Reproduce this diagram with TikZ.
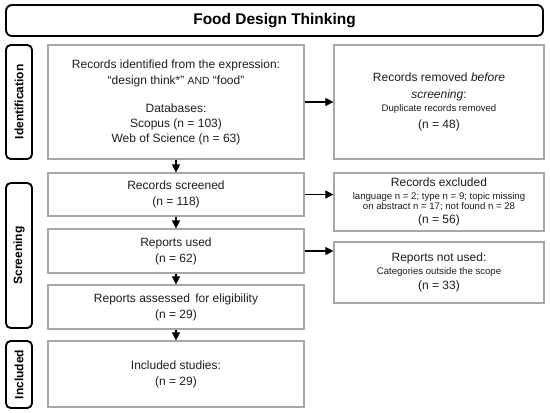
\documentclass[tikz,border=0pt]{standalone}
\usepackage{fontspec}
\setmainfont{Liberation Sans}
\usetikzlibrary{arrows.meta}
\definecolor{boxgray}{HTML}{A6A6A6}
\definecolor{txt}{HTML}{1E1E1E}
\newcommand{\sm}{\fontsize{7.2}{12}\selectfont}
\begin{document}
\begin{tikzpicture}[x=0.75pt,y=-0.75pt,
  box/.style={draw=boxgray, line width=0.9pt, inner sep=0pt, align=center, text=txt,
    font=\fontsize{9}{12}\selectfont},
  lbl/.style={draw=black, line width=1.4pt, rounded corners=3.5pt, inner sep=0pt,
    rotate=90, minimum height=19.5pt, font=\fontsize{9}{11}\selectfont\bfseries},
  titlebox/.style={draw=black, line width=1.4pt, rounded corners=4.5pt, inner sep=0pt,
    font=\fontsize{11.6}{14}\selectfont\bfseries},
  arr/.style={line width=0.8pt, -{Triangle[length=6pt,width=6pt]}}]
\useasboundingbox (0,0) rectangle (550,413);
\fill[white] (0,0) rectangle (550,413);

% title
\node[titlebox, minimum width=402.75pt, minimum height=23.25pt] (title) at (274.5,20.5) {Food Design Thinking};

% phase labels
\node[lbl, minimum width=85.5pt] (lid) at (19,102) {Identification};
\node[lbl, minimum width=108.75pt] (lsc) at (19,255.5) {Screening};
\node[lbl, minimum width=50.25pt] (lin) at (19,374.5) {Included};

% left column
\node[box, minimum width=192pt, minimum height=85.5pt] (b1) at (176,102)
  {Records identified from the expression:\\
   “design think*” {\fontsize{7.8}{12}\selectfont AND} “food”\\[9pt]
   Databases:\\[-0.75pt]
   Scopus (n = 103)\\[-0.75pt]
   Web of Science (n = 63)};
\node[box, minimum width=192pt, minimum height=32.25pt] (b2) at (176,194.5)
  {Records screened\\(n = 118)};
\node[box, minimum width=192pt, minimum height=33pt] (b3) at (176,251)
  {Reports used\\(n = 62)};
\node[box, minimum width=192pt, minimum height=33pt] (b4) at (176,307)
  {Reports assessed\, for eligibility\\(n = 29)};
\node[box, minimum width=192pt, minimum height=49.5pt] (b5) at (176,374)
  {Included studies:\\(n = 29)};

% right column
\node[box, minimum width=157.5pt, minimum height=85.5pt] (r1) at (439,102)
  {Records removed \textit{before}\\[0.75pt]
   \textit{screening}:\\[-2.25pt]
   {\sm Duplicate records removed}\\[0.75pt]
   (n = 48)};
\node[box, minimum width=157.5pt, minimum height=43.5pt] (r2) at (439,202)
  {Records excluded\\[-2.25pt]
   {\sm language n = 2; type n = 9; topic missing}\\[-4.5pt]
   {\sm on abstract n = 17; not found n = 28}\\[-1.5pt]
   (n = 56)};
\node[box, minimum width=157.5pt, minimum height=45.75pt] (r3) at (439,272.5)
  {Reports not used:\\[-2.25pt]
   {\sm Categories outside the scope}\\[-0.75pt]
   (n = 33)};

% connectors
\draw[arr] (b1.east) -- (b1.east -| r1.west);
\draw[arr] (b2.east) -- (b2.east -| r2.west);
\draw[arr] (b3.east) -- (b3.east -| r3.west);
\draw[arr] (b1.south) -- (b2.north);
\draw[arr] (b2.south) -- (b3.north);
\draw[arr] (b3.south) -- (b4.north);
\draw[arr] (b4.south) -- (b5.north);
\end{tikzpicture}
\end{document}
